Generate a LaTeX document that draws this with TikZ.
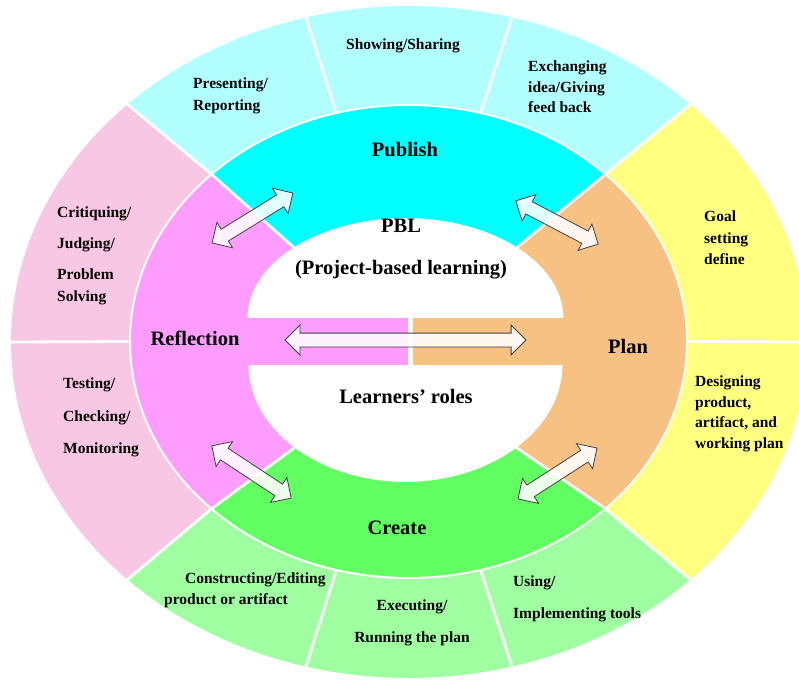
\documentclass[tikz,border=0pt]{standalone}
\usepackage{fontspec}
\setmainfont{Liberation Serif}
\usetikzlibrary{shapes.arrows}
\definecolor{cyanmid}{HTML}{00FFFF}
\definecolor{cyanout}{HTML}{B2FFFF}
\definecolor{orangemid}{HTML}{F8C184}
\definecolor{yellowout}{HTML}{FFFF80}
\definecolor{greenmid}{HTML}{62FF62}
\definecolor{greenout}{HTML}{A0FFA0}
\definecolor{magentamid}{HTML}{FF9CFF}
\definecolor{pinkout}{HTML}{F8C7E3}
\definecolor{arrowline}{HTML}{404040}
% ellipse points
\newcommand\Mid[1]{({408.5+278.5*cos(#1)},{339.5+236.5*sin(#1)})}
\newcommand\Out[1]{({409+398*cos(#1)},{339+336*sin(#1)})}
\newcommand\TopH[1]{({405.5+158*cos(#1)},{363+100*sin(#1)})}
\newcommand\BotH[1]{({405.5+157*cos(#1)},{316+117*sin(#1)})}
% outer ring cell: colour, start angle, end angle
\newcommand\outercell[3]{%
  \fill[#1] plot[domain=#2:#3, samples=60] ({408.5+278.5*cos(\x)},{339.5+236.5*sin(\x)})
    -- plot[domain=#3:#2, samples=60] ({409+398*cos(\x)},{339+336*sin(\x)}) -- cycle;}
\tikzset{
  big/.style={font=\fontsize{20.5}{24}\selectfont\bfseries, inner sep=0pt},
  small/.style={font=\fontsize{15.5}{19}\selectfont\bfseries, inner sep=0pt},
  gap/.style={white, line width=2.8pt},
  dblarrow/.style={double arrow, draw=arrowline, line width=0.8pt, fill=white,
    fill opacity=0.88, inner xsep=0pt, inner ysep=6.5pt,
    double arrow head extend=8pt, text height=0pt, text depth=0pt,
    minimum width=0pt}
}
\begin{document}
\begin{tikzpicture}[x=1pt, y=1pt]
\clip (0,0) rectangle (799,681);
\fill[white] (0,0) rectangle (799,681);
% outer ring
\outercell{cyanout}{45}{135}
\outercell{pinkout}{135}{225}
\outercell{greenout}{225}{315}
\outercell{yellowout}{-45}{45}
% middle ring
\fill[cyanmid] plot[domain=45:135, samples=60] ({405.5+158*cos(\x)},{363+100*sin(\x)})
  -- plot[domain=135:45, samples=60] ({408.5+278.5*cos(\x)},{339.5+236.5*sin(\x)}) -- cycle;
\fill[magentamid] plot[domain=135:180, samples=40] ({405.5+158*cos(\x)},{363+100*sin(\x)})
  -- plot[domain=180:225, samples=40] ({405.5+157*cos(\x)},{316+117*sin(\x)})
  -- plot[domain=225:135, samples=60] ({408.5+278.5*cos(\x)},{339.5+236.5*sin(\x)}) -- cycle;
\fill[greenmid] plot[domain=225:315, samples=60] ({405.5+157*cos(\x)},{316+117*sin(\x)})
  -- plot[domain=315:225, samples=60] ({408.5+278.5*cos(\x)},{339.5+236.5*sin(\x)}) -- cycle;
\fill[orangemid] plot[domain=-45:0, samples=40] ({405.5+157*cos(\x)},{316+117*sin(\x)})
  -- plot[domain=0:45, samples=40] ({405.5+158*cos(\x)},{363+100*sin(\x)})
  -- plot[domain=45:-45, samples=60] ({408.5+278.5*cos(\x)},{339.5+236.5*sin(\x)}) -- cycle;
% central band
\fill[magentamid] (244,316) rectangle (408,363);
\fill[orangemid] (413,316) rectangle (567,363);
% white separations
\draw[white, line width=2pt] (408.5,339.5) ellipse[x radius=278.5pt, y radius=236.5pt];
\foreach \a in {0,75,105,180,255,285}
  \draw[gap] \Mid{\a} -- \Out{\a};
\draw[gap] \TopH{45} -- \Mid{45} -- \Out{45};
\draw[gap] \TopH{135} -- \Mid{135} -- \Out{135};
\draw[gap] \BotH{225} -- \Mid{225} -- \Out{225};
\draw[gap] \BotH{315} -- \Mid{315} -- \Out{315};
% arrows
\node[dblarrow, minimum height=241pt] (ah) at (405.5,341) {};
\node[dblarrow, minimum height=95pt, rotate=31.7] (aul) at (252.5,463) {};
\node[dblarrow, minimum height=93pt, rotate=-27.7] (aur) at (557,458.5) {};
\node[dblarrow, minimum height=95pt, rotate=-33.4] (all) at (251.5,209) {};
\node[dblarrow, minimum height=94pt, rotate=32.8] (alr) at (557.5,207.5) {};
% big labels
\node[big, anchor=base] (publish) at (405,524) {Publish};
\node[big, anchor=base] (plan) at (628,328) {Plan};
\node[big, anchor=base] (reflection) at (195,336) {Reflection};
\node[big, anchor=base] (create) at (397,147) {Create};
\node[big, anchor=base] (pbl) at (401,449) {PBL};
\node[big, anchor=base] (pbl2) at (401,407) {(Project-based learning)};
\node[big, anchor=base] (roles) at (406,278) {Learners’ roles};
% outer labels
\node[small, anchor=base] (show) at (403,631) {Showing/Sharing};
\node[small, anchor=base west] (pres1) at (193,592) {Presenting/};
\node[small, anchor=base west] (pres2) at (193,570) {Reporting};
\node[small, anchor=base west] (exch1) at (528,609) {Exchanging};
\node[small, anchor=base west] (exch2) at (528,588) {idea/Giving};
\node[small, anchor=base west] (exch3) at (528,568) {feed back};
\node[small, anchor=base west] (goal1) at (704,459) {Goal};
\node[small, anchor=base west] (goal2) at (704,438) {setting};
\node[small, anchor=base west] (goal3) at (704,417) {define};
\node[small, anchor=base west] (des1) at (695,295) {Designing};
\node[small, anchor=base west] (des2) at (695,274) {product,};
\node[small, anchor=base west] (des3) at (695,254) {artifact, and};
\node[small, anchor=base west] (des4) at (695,233) {working plan};
\node[small, anchor=base west] (crit1) at (57,464) {Critiquing/};
\node[small, anchor=base west] (crit2) at (57,433) {Judging/};
\node[small, anchor=base west] (crit3) at (57,402) {Problem};
\node[small, anchor=base west] (crit4) at (57,380) {Solving};
\node[small, anchor=base west] (test1) at (63,293) {Testing/};
\node[small, anchor=base west] (test2) at (63,260) {Checking/};
\node[small, anchor=base west] (test3) at (63,228) {Monitoring};
\node[small, anchor=base west] (cons1) at (185,98) {Constructing/Editing};
\node[small, anchor=base west] (cons2) at (164,77) {product or artifact};
\node[small, anchor=base] (exec1) at (412,71) {Executing/};
\node[small, anchor=base] (exec2) at (412,39) {Running the plan};
\node[small, anchor=base west] (use1) at (513,95) {Using/};
\node[small, anchor=base west] (use2) at (513,63) {Implementing tools};
\end{tikzpicture}
\end{document}
